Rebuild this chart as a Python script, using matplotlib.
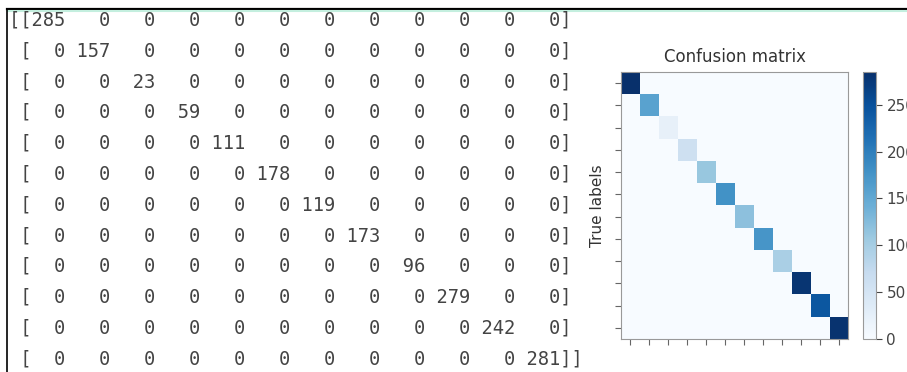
import numpy as np
import matplotlib.pyplot as plt
from matplotlib.lines import Line2D

# per-class counts on the diagonal, everything else is zero
diag_counts = [285, 157, 23, 59, 111, 178, 119, 173, 96, 279, 242, 281]
n_classes = len(diag_counts)
cbar_ticks = [0, 50, 100, 150, 200, 250]

cm = np.diag(diag_counts)

W, H = 907, 372
fig = plt.figure(figsize=(W / 100, H / 100), dpi=100)


def fx(x):
    return x / W


def fy(y):
    return 1 - y / H


# cell output frame
fig.add_artist(Line2D([fx(7), 1], [fy(9), fy(9)], color='black', lw=1.6))
fig.add_artist(Line2D([fx(8), 1], [fy(11), fy(11)], color='#c4efdf', lw=1.5))
fig.add_artist(Line2D([fx(7), fx(7)], [fy(9), 0], color='black', lw=1.2))

# printed array
for i, row in enumerate(str(cm).split('\n')):
    fig.text(fx(9), fy(20 + i * 30.8), row, family='DejaVu Sans Mono',
             fontsize=13.5, color='#444444', va='center', ha='left')

# heatmap
ax = fig.add_axes([fx(621), fy(339), 227 / W, 267 / H])
im = ax.imshow(cm, cmap='Blues', interpolation='nearest', aspect='auto')
ax.set_title('Confusion matrix', fontsize=12, color='#333333', pad=7)
ax.set_ylabel('True labels', fontsize=11, color='#333333')
ax.set_xticks(range(n_classes))
ax.set_yticks(range(n_classes))
ax.set_xticklabels([])
ax.set_yticklabels([])
ax.tick_params(length=4, color='#666666')
for s in ax.spines.values():
    s.set_color('#999999')

cax = fig.add_axes([fx(863), fy(339), 13 / W, 267 / H])
cb = fig.colorbar(im, cax=cax, ticks=cbar_ticks)
cb.outline.set_edgecolor('#999999')
cax.tick_params(labelsize=11, length=4, colors='#444444')

fig.savefig('out.png', dpi=100)
